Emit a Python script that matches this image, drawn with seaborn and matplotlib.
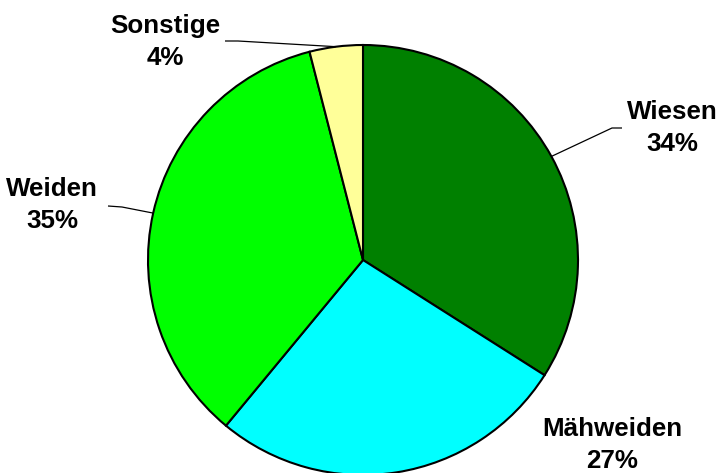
import matplotlib
matplotlib.use("Agg")
import matplotlib.pyplot as plt
import seaborn as sns
import numpy as np

categories = ["Wiesen", "Mähweiden", "Weiden", "Sonstige"]
values = [34, 27, 35, 4]
colors = ["#008000", "#00FFFF", "#00FF00", "#FFFF99"]

sns.set_theme(style="white")
plt.rcParams['font.family'] = ['Liberation Sans', 'DejaVu Sans']

W, H = 723, 473
fig = plt.figure(figsize=(W / 100, H / 100), dpi=100)
ax = fig.add_axes([0, 0, 1, 1])

cx, cy, R = 363, H - 260, 215
palette = sns.color_palette(colors)
wedges, _ = ax.pie(values, colors=palette, startangle=90, counterclock=False,
                   center=(cx, cy), radius=R, frame=True,
                   wedgeprops=dict(edgecolor="black", linewidth=1.5))
ax.set_xlim(0, W)
ax.set_ylim(0, H)
ax.set_aspect('equal')
ax.axis('off')

# label positions (pixel coords from top), elbow and end of leader line
label_pos = {"Wiesen": (672, 128), "Mähweiden": (612, 445), "Weiden": (52, 205), "Sonstige": (165, 42)}
leaders = {"Wiesen": [(612, 128), (622, 128)],
           "Weiden": [(122, 207), (108, 206)],
           "Sonstige": [(238, 41), (225, 41)]}

for w, cat, v in zip(wedges, categories, values):
    mid = np.deg2rad((w.theta1 + w.theta2) / 2)
    ex, ey = cx + R * np.cos(mid), cy + R * np.sin(mid)
    if cat in leaders:
        pts = [(ex, ey)] + [(x, H - y) for x, y in leaders[cat]]
        xs, ys = zip(*pts)
        ax.plot(xs, ys, color="black", linewidth=0.9, solid_capstyle="butt")
    lx, ly = label_pos[cat]
    ax.text(lx, H - ly, f"{cat}\n{v}%", ha="center", va="center",
            fontsize=18.7, fontweight="bold", linespacing=1.45, color="black")

fig.savefig("out.png", dpi=100)
